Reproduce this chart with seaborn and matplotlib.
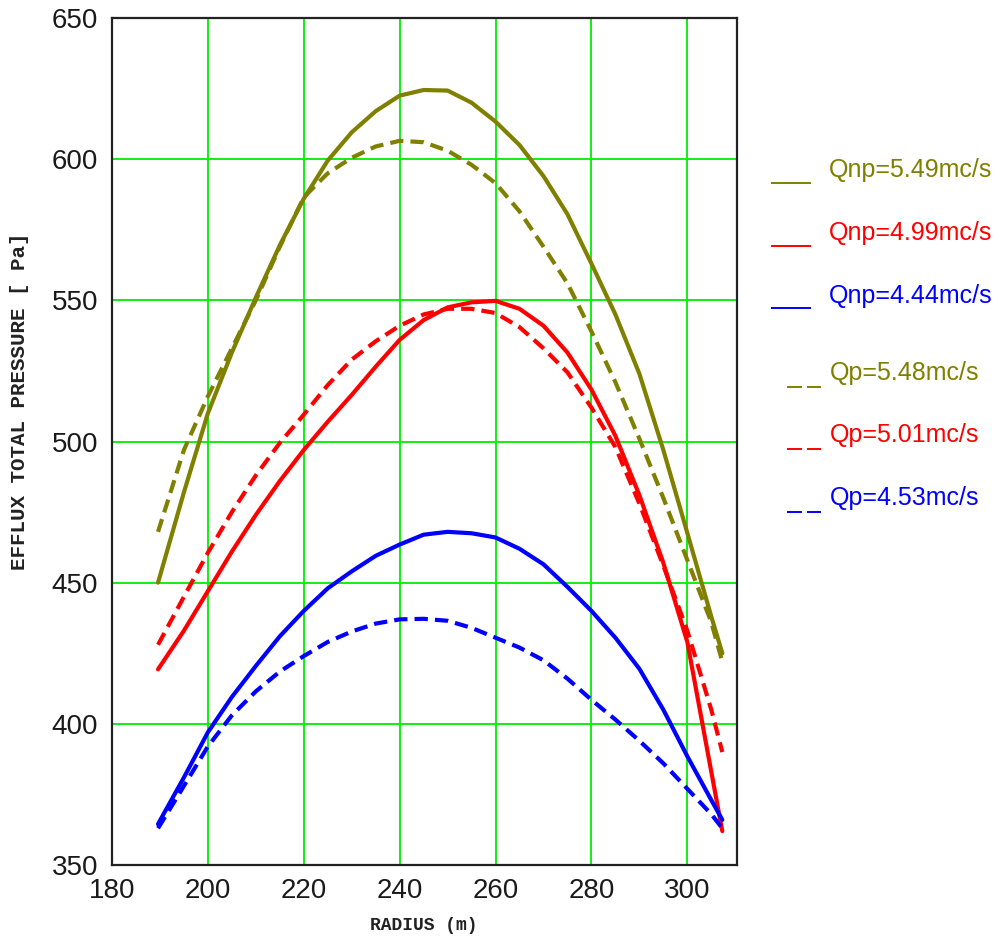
import matplotlib
matplotlib.use("Agg")
import matplotlib.pyplot as plt
from matplotlib.lines import Line2D
import seaborn as sns
import pandas as pd

# ---- data ----
radius = [189.6, 195, 200, 205, 210, 215, 220, 225, 230, 235, 240, 245, 250,
          255, 260, 265, 270, 275, 280, 285, 290, 295, 300, 305, 307.3]

qnp_549 = [450, 482, 510, 531.5, 551, 569.5, 586, 599.5, 609.5, 617, 622.5, 624.5, 624.3,
           620, 613.3, 605, 594, 580.5, 563, 545, 524, 497, 467.6, 438, 425]
qnp_499 = [419.3, 433, 447, 461, 474, 486, 497, 507, 516.5, 526.5, 536, 543, 547.5,
           549.3, 549.8, 547, 541, 531.5, 518.4, 502, 481, 457, 429, 383, 362]
qnp_444 = [364.5, 381, 397, 409.5, 420.5, 431, 440, 448, 454, 459.5, 463.5, 467, 468,
           467.5, 466, 462, 456.5, 448.5, 440, 430.5, 419.5, 405, 388.5, 373, 366]
qp_548 = [468, 497, 516, 533, 550, 569, 586.5, 595, 600.5, 604.5, 606.5, 606, 603,
          598, 591.5, 581.5, 569, 556, 539, 521, 501, 480, 458, 436, 422]
qp_501 = [428, 445, 460.6, 475, 488, 499.5, 509.5, 520, 529, 535.5, 541, 545, 547,
          547, 545.5, 540.5, 533, 524.5, 512, 498, 478, 456, 433, 405, 390]
qp_453 = [363, 378, 392, 403, 411.5, 418.5, 424, 429, 432.7, 435.5, 437, 437.2, 436.5,
          434, 430.5, 427, 422.5, 416, 408.5, 401.5, 394, 386, 377, 368, 363]

series_names = ["Qnp=5.49mc/s", "Qnp=4.99mc/s", "Qnp=4.44mc/s",
                "Qp=5.48mc/s", "Qp=5.01mc/s", "Qp=4.53mc/s"]
series_values = [qnp_549, qnp_499, qnp_444, qp_548, qp_501, qp_453]
series_colors = ["#808000", "#ff0000", "#0000ff", "#808000", "#ff0000", "#0000ff"]
series_dashed = [False, False, False, True, True, True]

x_ticks = [180, 200, 220, 240, 260, 280, 300]
y_ticks = [350, 400, 450, 500, 550, 600, 650]

# ---- figure ----
sns.set_theme(style="white")
plt.rcParams["font.family"] = ["Liberation Sans", "DejaVu Sans"]

W, H = 1006, 938
fig = plt.figure(figsize=(W / 100, H / 100), dpi=100)
ax = fig.add_axes([112 / W, 1 - 865 / H, (736.7 - 112) / W, (865 - 18) / H])

for name, vals, col, dashed in zip(series_names, series_values, series_colors, series_dashed):
    df = pd.DataFrame({"radius": radius, "pressure": vals})
    sns.lineplot(data=df, x="radius", y="pressure", ax=ax, color=col,
                 linewidth=3.0, estimator=None, sort=False, zorder=3)
    if dashed:
        ax.lines[-1].set_dashes((3.2, 1.7))

ax.set_xlim(180, 310.3)
ax.set_ylim(350, 650)
ax.set_xticks(x_ticks)
ax.set_yticks(y_ticks)
ax.set_xticklabels([str(t) for t in x_ticks])
ax.set_yticklabels([str(t) for t in y_ticks])
ax.tick_params(axis="both", length=0, labelsize=20, colors="#1a1a1a")
ax.tick_params(axis="y", pad=10)
ax.tick_params(axis="x", pad=9)
ax.grid(True, color="#00ee00", linewidth=1.3)
ax.set_axisbelow(True)
for sp in ax.spines.values():
    sp.set_visible(True)
    sp.set_color("#222222")
    sp.set_linewidth(1.6)
ax.set_xlabel("")
ax.set_ylabel("")

fig.text(424 / W, 1 - 925 / H, "RADIUS (m)", ha="center", va="center",
         fontsize=13, family=["Liberation Mono", "DejaVu Sans Mono"], fontweight="bold",
         color="#222222")
fig.text(20 / W, 1 - 401 / H, "EFFLUX TOTAL PRESSURE [ Pa]", ha="center", va="center",
         rotation=90, fontsize=15, family=["Liberation Mono", "DejaVu Sans Mono"],
         fontweight="bold", color="#222222")

# ---- legend (drawn beside the plot) ----
solid_rows = [(183.3, 170), (245.7, 233), (308, 295.7)]
dash_rows = [(387.3, 372.7), (449.3, 435), (511.7, 498.3)]
for i, (ly, ty) in enumerate(solid_rows):
    col = series_colors[i]
    fig.add_artist(Line2D([771 / W, 811 / W], [1 - ly / H, 1 - ly / H], color=col,
                          linewidth=1.4, solid_capstyle="butt"))
    fig.text(829 / W, 1 - ty / H, series_names[i], color=col, fontsize=18, ha="left", va="center")
for j, (ly, ty) in enumerate(dash_rows):
    i = j + 3
    col = series_colors[i]
    for x0, x1 in [(786.7, 801.7), (807.3, 820.7)]:
        fig.add_artist(Line2D([x0 / W, x1 / W], [1 - ly / H, 1 - ly / H], color=col,
                              linewidth=1.4, solid_capstyle="butt"))
    fig.text(830 / W, 1 - ty / H, series_names[i], color=col, fontsize=18, ha="left", va="center")

fig.savefig("out.png", dpi=100)
